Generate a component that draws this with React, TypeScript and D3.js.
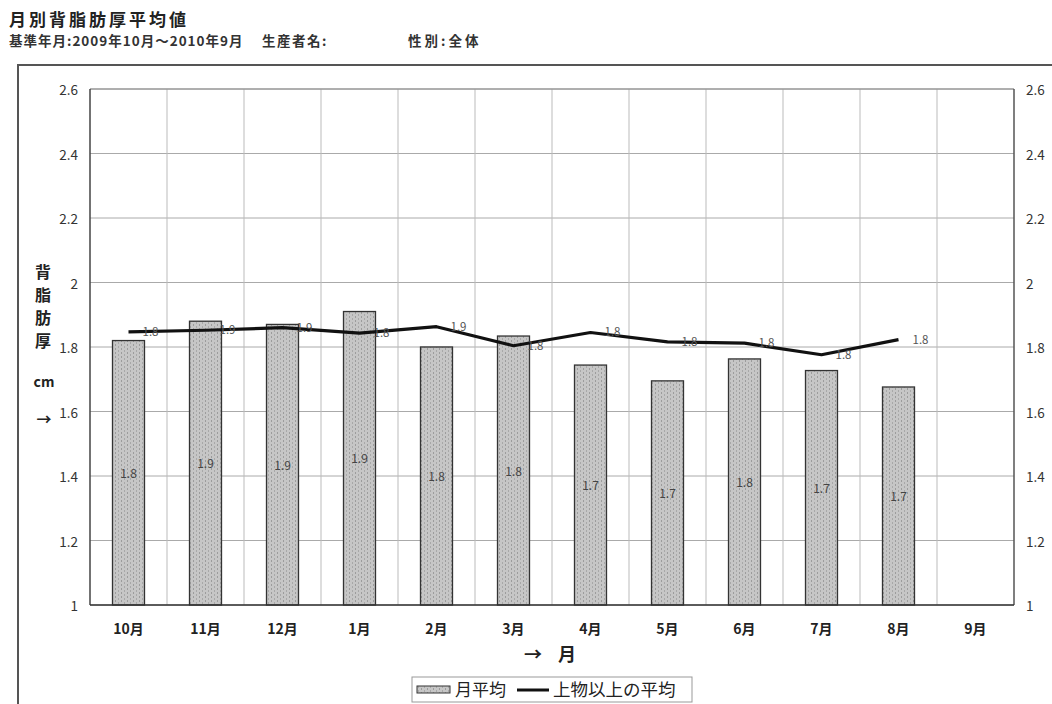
import React from "react";
import * as d3 from "d3";

const months = ["10月", "11月", "12月", "1月", "2月", "3月", "4月", "5月", "6月", "7月", "8月", "9月"];
const monthAvg: (number | null)[] = [1.82, 1.88, 1.87, 1.91, 1.80, 1.834, 1.744, 1.695, 1.763, 1.727, 1.676, null];
const premiumAvg: (number | null)[] = [1.847, 1.852, 1.86, 1.843, 1.863, 1.804, 1.845, 1.816, 1.812, 1.776, 1.823, null];
const yTicks = [1, 1.2, 1.4, 1.6, 1.8, 2, 2.2, 2.4, 2.6];
const yTitle = ["背", "脂", "肪", "厚"];

const W = 1052;
const H = 704;
const left = 90;
const right = 1014;
const top = 89;
const bottom = 605;
const JP = "'Noto Sans CJK JP', 'Noto Sans', sans-serif";

export default function App() {
  const x = d3.scaleBand<string>().domain(months).range([left, right]).paddingInner(0).paddingOuter(0);
  const y = d3.scaleLinear().domain([1, 2.6]).range([bottom, top]);
  const bw = 32;
  const fmt = d3.format(".1f");
  const lineData = months
    .map((m, i) => ({ m, v: premiumAvg[i] }))
    .filter((d) => d.v != null) as { m: string; v: number }[];
  const line = d3
    .line<{ m: string; v: number }>()
    .x((d) => (x(d.m) as number) + x.bandwidth() / 2)
    .y((d) => y(d.v))
    .curve(d3.curveLinear);

  return (
    <svg width={W} height={H} style={{ position: "absolute", left: 0, top: 0, background: "#fff" }} fontFamily={JP}>
      <defs>
        <pattern id="barPat" width="6" height="4" patternUnits="userSpaceOnUse">
          <rect width="6" height="4" fill="#c6c6c6" />
          <rect x="1" y="0" width="1" height="2" fill="#9c9c9c" />
          <rect x="4" y="2" width="1" height="2" fill="#a8a8a8" />
        </pattern>
      </defs>
      <rect width={W} height={H} fill="#fff" />
      {/* titles */}
      <text x={9} y={26} fontSize={17} fontWeight="bold" letterSpacing={3} fill="#222">月別背脂肪厚平均値</text>
      <text x={9} y={46} fontSize={13.5} fontWeight="bold" letterSpacing={1} fill="#333">基準年月:2009年10月～2010年9月</text>
      <text x={262} y={46} fontSize={13.5} fontWeight="bold" letterSpacing={1.5} fill="#333">生産者名:</text>
      <text x={408} y={46} fontSize={13.5} fontWeight="bold" letterSpacing={3} fill="#333">性別:全体</text>
      {/* outer frame */}
      <path d={`M18,${H} V65 H${W}`} fill="none" stroke="#555" strokeWidth={2} />
      {/* grid */}
      {yTicks.map((t) => (
        <line key={"h" + t} x1={left} x2={right} y1={y(t)} y2={y(t)} stroke="#aaa" strokeWidth={1} />
      ))}
      {months.slice(1).map((m) => (
        <line key={"v" + m} x1={x(m) as number} x2={x(m) as number} y1={top} y2={bottom} stroke="#bbb" strokeWidth={1} />
      ))}
      {/* bars */}
      {months.map((m, i) => {
        const v = monthAvg[i];
        if (v == null) return null;
        const cx = (x(m) as number) + x.bandwidth() / 2;
        return (
          <g key={"b" + m}>
            <rect x={cx - bw / 2} y={y(v)} width={bw} height={bottom - y(v)} fill="url(#barPat)" stroke="#333" strokeWidth={1.3} />
            <text x={cx} y={(y(v) + bottom) / 2 + 5} fontSize={12} textAnchor="middle" fill="#444">{fmt(v)}</text>
          </g>
        );
      })}
      {/* plot border */}
      <line x1={left} x2={right} y1={top} y2={top} stroke="#888" strokeWidth={1} />
      <line x1={left} x2={left} y1={top} y2={bottom} stroke="#444" strokeWidth={1.5} />
      <line x1={right} x2={right} y1={top} y2={bottom} stroke="#555" strokeWidth={1.5} />
      <line x1={left} x2={right} y1={bottom} y2={bottom} stroke="#333" strokeWidth={1.5} />
      {/* line */}
      <path d={line(lineData) || ""} fill="none" stroke="#111" strokeWidth={3.2} strokeLinejoin="round" />
      {lineData.map((d) => (
        <text key={"l" + d.m} x={(x(d.m) as number) + x.bandwidth() / 2 + 22} y={y(d.v) + 4} fontSize={11.5} textAnchor="middle" fill="#555">
          {fmt(d.v)}
        </text>
      ))}
      {/* y axes */}
      {yTicks.map((t) => (
        <g key={"t" + t}>
          <text x={78} y={y(t) + 6} fontSize={13.5} textAnchor="end" fill="#333">{String(t)}</text>
          <text x={1026} y={y(t) + 6} fontSize={13.5} textAnchor="start" fill="#333">{String(t)}</text>
        </g>
      ))}
      {/* y title */}
      {yTitle.map((c, i) => (
        <text key={c} x={43} y={278 + i * 23} fontSize={16} fontWeight="bold" textAnchor="middle" fill="#222">{c}</text>
      ))}
      <text x={44} y={387} fontSize={14} fontWeight="bold" textAnchor="middle" fill="#222">cm</text>
      <text x={44} y={425} fontSize={15} fontWeight="bold" textAnchor="middle" fill="#222">→</text>
      {/* x labels */}
      {months.map((m) => (
        <text key={"x" + m} x={(x(m) as number) + x.bandwidth() / 2} y={634} fontSize={14} fontWeight="bold" textAnchor="middle" fill="#222">{m}</text>
      ))}
      <text x={533} y={661} fontSize={18} fontWeight="bold" textAnchor="middle" fill="#222">→</text>
      <text x={567} y={661} fontSize={18} fontWeight="bold" textAnchor="middle" fill="#222">月</text>
      {/* legend */}
      <rect x={412} y={677} width={280} height={25} fill="#fff" stroke="#999" strokeWidth={1} />
      <rect x={417} y={686} width={33} height={7} fill="url(#barPat)" stroke="#333" strokeWidth={1} />
      <text x={455} y={696} fontSize={17} fill="#222">月平均</text>
      <line x1={517} x2={549} y1={690} y2={690} stroke="#111" strokeWidth={3} />
      <text x={553} y={696} fontSize={17.5} fill="#222">上物以上の平均</text>
    </svg>
  );
}
